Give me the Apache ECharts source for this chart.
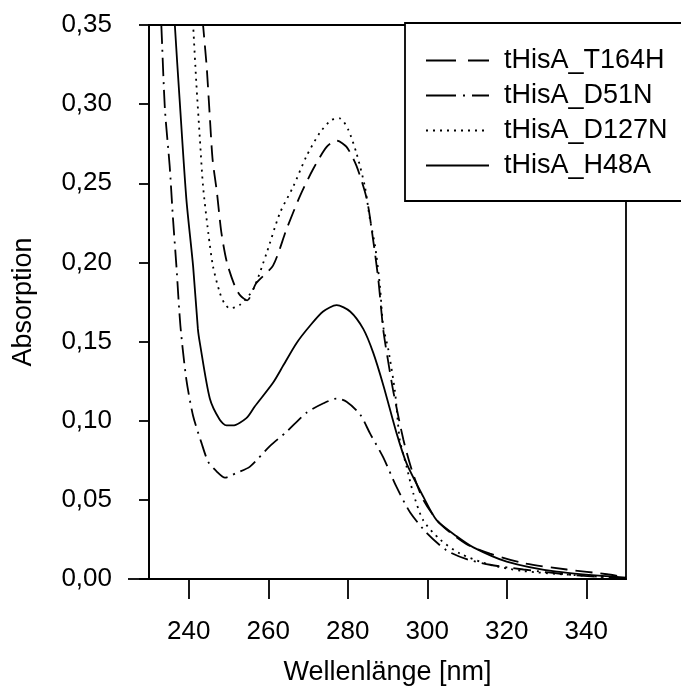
<!DOCTYPE html>
<html>
<head>
<meta charset="utf-8">
<title>Absorption</title>
<script src="https://cdn.jsdelivr.net/npm/echarts@6/dist/echarts.min.js"></script>
<style>
  html, body { margin: 0; padding: 0; background: #fff; }
  #main { width: 681px; height: 698px; }
</style>
</head>
<body>
<div id="main"></div>
<script>
var seriesNames = ['tHisA_T164H', 'tHisA_D51N', 'tHisA_D127N', 'tHisA_H48A'];

// Wellenlänge [nm] / Absorption
var wlT164H = [242, 243.6, 244.5, 245.3, 246, 247.1, 248.2, 249.6, 251.6, 253, 254.7, 257, 261.2, 264.6, 268, 271.3, 274.7, 277.2, 279.7, 282.2, 284.8, 286.4, 287.7, 288.9, 290, 291.5, 294, 296.1, 299, 303.2, 309.9, 315.8, 324.2, 335.1, 345.2, 350];
var absT164H = [0.40, 0.35, 0.324, 0.292, 0.265, 0.244, 0.219, 0.200, 0.185, 0.179, 0.176, 0.187, 0.198, 0.221, 0.242, 0.259, 0.273, 0.277, 0.273, 0.261, 0.240, 0.214, 0.189, 0.158, 0.140, 0.118, 0.088, 0.069, 0.050, 0.035, 0.022, 0.016, 0.010, 0.006, 0.003, 0.001];

var wlD51N = [232, 233.1, 234, 235.2, 236, 236.9, 237.9, 239.4, 241.1, 243.2, 244.9, 247, 249.1, 252, 255.4, 260.4, 264.6, 269.6, 273.9, 277.2, 279.7, 283.1, 285.6, 288.9, 292.3, 295.7, 299.9, 304.9, 309.9, 315.8, 324.2, 336.8, 350];
var absD51N = [0.41, 0.35, 0.297, 0.261, 0.229, 0.1975, 0.160, 0.126, 0.103, 0.086, 0.074, 0.068, 0.064, 0.067, 0.071, 0.084, 0.093, 0.105, 0.111, 0.114, 0.112, 0.104, 0.092, 0.077, 0.058, 0.042, 0.029, 0.018, 0.0125, 0.009, 0.006, 0.0025, 0.0003];

var wlD127N = [240, 241.1, 241.9, 242.8, 243.6, 244.9, 246.1, 247.8, 249, 250.3, 252.8, 256.2, 259.6, 262.9, 266.3, 269.6, 273, 275.9, 278, 280.1, 282.2, 284.3, 285.6, 286.9, 288.1, 288.9, 290.2, 291.9, 293.1, 294.8, 296.5, 299, 303.2, 308.3, 315.8, 324.2, 336.8, 350];
var absD127N = [0.40, 0.35, 0.3135, 0.278, 0.248, 0.219, 0.1975, 0.181, 0.174, 0.171, 0.173, 0.183, 0.206, 0.231, 0.248, 0.267, 0.282, 0.290, 0.291, 0.284, 0.269, 0.248, 0.227, 0.210, 0.185, 0.160, 0.145, 0.118, 0.088, 0.071, 0.054, 0.037, 0.025, 0.016, 0.009, 0.005, 0.0025, 0.0005];

var wlH48A = [235, 236.5, 237.7, 239.4, 241.1, 242.3, 242.8, 245.3, 247.8, 249.5, 251.1, 254.5, 256.6, 261.2, 263.8, 267.1, 270.5, 273.8, 277.2, 280.6, 283.9, 286.4, 289, 292.3, 294.8, 299, 302.4, 307.4, 311.6, 320, 332.6, 350];
var absH48A = [0.42, 0.35, 0.303, 0.240, 0.1975, 0.158, 0.149, 0.114, 0.1006, 0.097, 0.097, 0.1016, 0.109, 0.124, 0.135, 0.149, 0.160, 0.169, 0.173, 0.169, 0.158, 0.143, 0.122, 0.092, 0.073, 0.052, 0.037, 0.027, 0.020, 0.011, 0.0046, 0.0008];

var xTicks = [240, 260, 280, 300, 320, 340];

function pairs(xs, ys) {
	var out = [];
	for (var i = 0; i < xs.length; i++) {
		out.push([xs[i], ys[i]]);
	}
	return out;
}

var FONT = 'Liberation Sans';
var dashT = [17, 8];
var dashD = [18, 6, 2, 6];
var dotP = [2, 5];

function lineSeries(name, data, dash) {
	return {
		name : name,
		type : 'line',
		data : data,
		symbol : 'none',
		smooth : 0.25,
		clip : true,
		lineStyle : {
			color : '#000',
			width : 1.8,
			type : dash
		},
		itemStyle : { color : '#000' }
	};
}

var myChart = echarts.init(document.getElementById('main'));

var option = {
	backgroundColor : '#fff',
	animation : false,
	textStyle : { fontFamily : FONT },
	grid : {
		left : 149,
		right : 55,
		top : 25,
		bottom : 119,
		show : true,
		borderColor : '#000',
		borderWidth : 1.8,
		backgroundColor : 'transparent'
	},
	legend : {
		orient : 'vertical',
		left : 405,
		top : 23,
		padding : [24, 70, 22, 20],
		backgroundColor : '#fff',
		borderColor : '#000',
		borderWidth : 1.8,
		itemWidth : 63,
		itemHeight : 14,
		itemGap : 8,
		itemStyle : { opacity : 0 },
		textStyle : {
			fontFamily : FONT,
			fontSize : 27,
			color : '#000',
			padding : [0, 0, 0, 10]
		},
		data : [
			{ name : seriesNames[0], lineStyle : { type : [30, 12] } },
			{ name : seriesNames[1], lineStyle : { type : [30, 7, 2, 7] } },
			{ name : seriesNames[2], lineStyle : { type : [2, 5] } },
			{ name : seriesNames[3] }
		]
	},
	xAxis : {
		type : 'value',
		min : 230,
		max : 350,
		name : 'Wellenlänge [nm]',
		nameLocation : 'middle',
		nameGap : 80,
		nameTextStyle : { fontFamily : FONT, fontSize : 27, color : '#000' },
		splitLine : { show : false },
		axisLine : { lineStyle : { color : '#000', width : 1.8 } },
		axisTick : {
			show : true,
			inside : false,
			length : 20,
			customValues : xTicks,
			lineStyle : { color : '#000', width : 1.8 }
		},
		axisLabel : {
			customValues : xTicks,
			margin : 40,
			fontFamily : FONT,
			fontSize : 26,
			color : '#000'
		}
	},
	yAxis : {
		type : 'value',
		min : 0,
		max : 0.35,
		interval : 0.05,
		name : 'Absorption',
		nameLocation : 'middle',
		nameGap : 112,
		nameRotate : 90,
		nameTextStyle : { fontFamily : FONT, fontSize : 27, color : '#000' },
		splitLine : { show : false },
		axisLine : { show : true, lineStyle : { color : '#000', width : 1.8 } },
		axisTick : {
			show : true,
			inside : false,
			length : 10,
			lineStyle : { color : '#000', width : 1.8 }
		},
		axisLabel : {
			margin : 37,
			fontFamily : FONT,
			fontSize : 26,
			color : '#000',
			formatter : function (v) {
				return v.toFixed(2).replace('.', ',');
			}
		}
	},
	series : [
		lineSeries(seriesNames[0], pairs(wlT164H, absT164H), dashT),
		lineSeries(seriesNames[1], pairs(wlD51N, absD51N), dashD),
		lineSeries(seriesNames[2], pairs(wlD127N, absD127N), dotP),
		lineSeries(seriesNames[3], pairs(wlH48A, absH48A), 'solid')
	]
};
myChart.setOption(option);

// x-Achse ragt links etwas über die y-Achse hinaus
var p0 = myChart.convertToPixel({ gridIndex : 0 }, [230, 0]);
myChart.setOption({
	graphic : [{
		type : 'line',
		shape : { x1 : p0[0] - 21, y1 : p0[1], x2 : p0[0], y2 : p0[1] },
		style : { stroke : '#000', lineWidth : 1.8 }
	}]
});
</script>
</body>
</html>
